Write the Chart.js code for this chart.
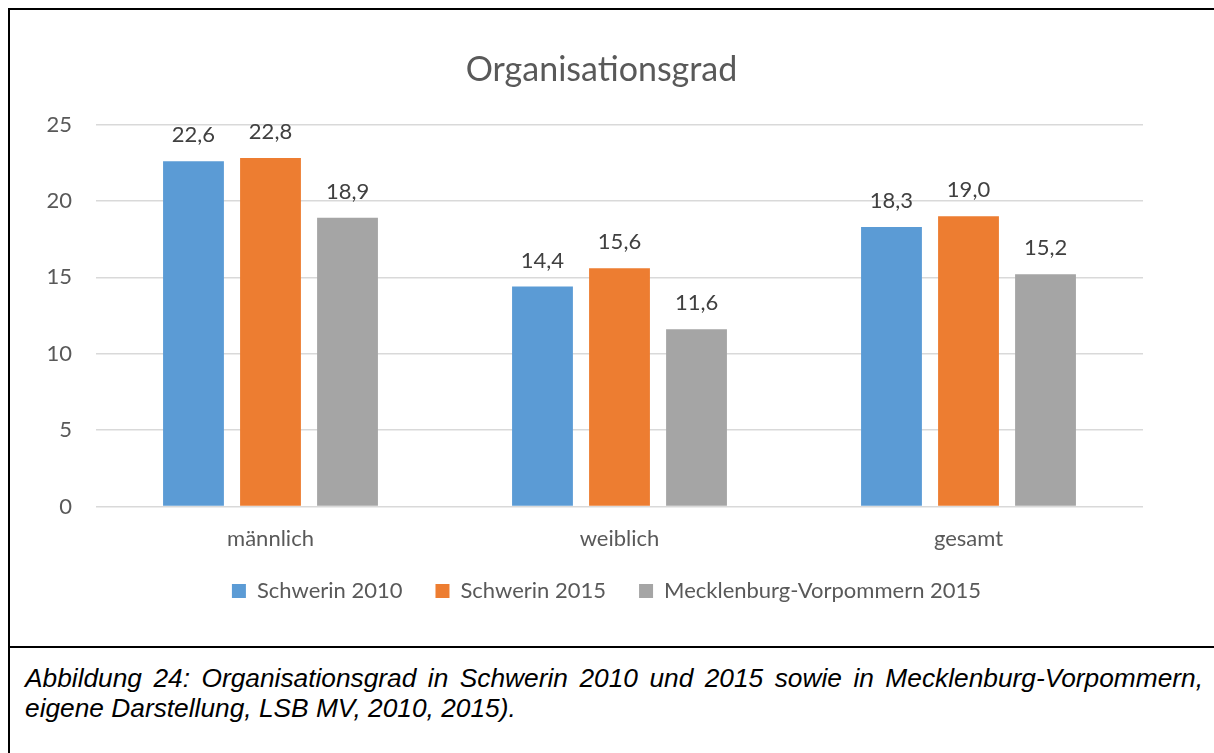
<!DOCTYPE html>
<html>
<head>
<meta charset="utf-8">
<script src="https://cdn.jsdelivr.net/npm/chart.js@4.4.1/dist/chart.umd.min.js"></script>
<style>
  html, body { margin: 0; padding: 0; background: #fff; overflow: hidden; }
  #frame { position: absolute; left: 8px; top: 8px; width: 1240px; height: 760px;
           border-left: 2px solid #000; border-top: 2px solid #000; }
  #chartBox { position: relative; width: 1240px; height: 636px; border-bottom: 2px solid #000; }
  #chartInner { position: absolute; left: 0; top: 0; width: 1204px; height: 636px; }
  .cap { position: absolute; left: 15px; width: 1178px; font-family: "Liberation Sans", Arial, sans-serif;
         font-style: italic; font-size: 26.3px; line-height: 30px; color: #000; white-space: nowrap; }
  #cap1 { top: 653px; text-align: justify; text-align-last: justify; }
  #cap2 { top: 683px; }
</style>
</head>
<body>
<div id="frame">
  <div id="chartBox"><div id="chartInner"><canvas id="chart"></canvas></div></div>
  <div class="cap" id="cap1">Abbildung 24: Organisationsgrad in Schwerin 2010 und 2015 sowie in Mecklenburg-Vorpommern,</div>
  <div class="cap" id="cap2">eigene Darstellung, LSB MV, 2010, 2015).</div>
</div>
<script>
// Daten
const categories = ['männlich', 'weiblich', 'gesamt'];
const seriesNames = ['Schwerin 2010', 'Schwerin 2015', 'Mecklenburg-Vorpommern 2015'];
const schwerin2010 = [22.6, 14.4, 18.3];
const schwerin2015 = [22.8, 15.6, 19.0];
const mv2015 = [18.9, 11.6, 15.2];
const yTicks = [0, 5, 10, 15, 20, 25];

const colors = ['#5B9BD5', '#ED7D31', '#A5A5A5'];
const textGray = '#595959';

// Werte über den Balken, mit Komma
const valueLabels = {
    id: 'valueLabels',
    afterDatasetsDraw(chart) {
        const ctx = chart.ctx;
        ctx.save();
        ctx.font = '22px Lato';
        ctx.fillStyle = '#404040';
        ctx.textAlign = 'center';
        ctx.textBaseline = 'middle';
        chart.data.datasets.forEach((ds, i) => {
            chart.getDatasetMeta(i).data.forEach((bar, j) => {
                ctx.fillText(ds.data[j].toFixed(1).replace('.', ','), bar.x, bar.y - 26);
            });
        });
        ctx.restore();
    }
};

// Titel und Legende wie im Original nachjustieren
const layoutTweak = {
    id: 'layoutTweak',
    afterLayout(chart) {
        chart.titleBlock.left += 25;
        chart.titleBlock.right += 25;
        chart.legend.left += 30;
        chart.legend.right += 30;
        chart.legend.top -= 24;
        chart.legend.bottom -= 24;
    }
};

const seriesValues = [schwerin2010, schwerin2015, mv2015];

new Chart(document.getElementById('chart'), {
    type: 'bar',
    data: {
        labels: categories,
        datasets: seriesNames.map((name, i) => ({
            label: name,
            data: seriesValues[i],
            backgroundColor: colors[i],
            barPercentage: 0.79,
            categoryPercentage: 0.662
        }))
    },
    options: {
        responsive: true,
        maintainAspectRatio: false,
        animation: false,
        layout: { padding: { left: 0, right: 71, top: 0, bottom: 10 } },
        plugins: {
            title: {
                display: true,
                text: 'Organisationsgrad',
                color: textGray,
                font: { family: 'Lato', size: 34, weight: 'normal' },
                padding: { top: 40, bottom: 33.7 }
            },
            legend: {
                position: 'bottom',
                labels: {
                    boxWidth: 14,
                    boxHeight: 14,
                    padding: 33,
                    color: textGray,
                    font: { family: 'Lato', size: 22 }
                }
            },
            tooltip: { enabled: false }
        },
        scales: {
            x: {
                grid: { display: false, drawTicks: false },
                border: { display: false },
                ticks: { color: textGray, font: { family: 'Lato', size: 22 }, padding: 19 }
            },
            y: {
                min: 0,
                max: 25,
                afterBuildTicks: axis => { axis.ticks = yTicks.map(v => ({ value: v })); },
                afterFit: axis => { axis.width = 86; },
                grid: { color: '#D9D9D9', lineWidth: 1.5, drawTicks: false },
                border: { display: false },
                ticks: { color: textGray, font: { family: 'Lato', size: 22 }, padding: 24 }
            }
        }
    },
    plugins: [valueLabels, layoutTweak]
});
</script>
</body>
</html>
